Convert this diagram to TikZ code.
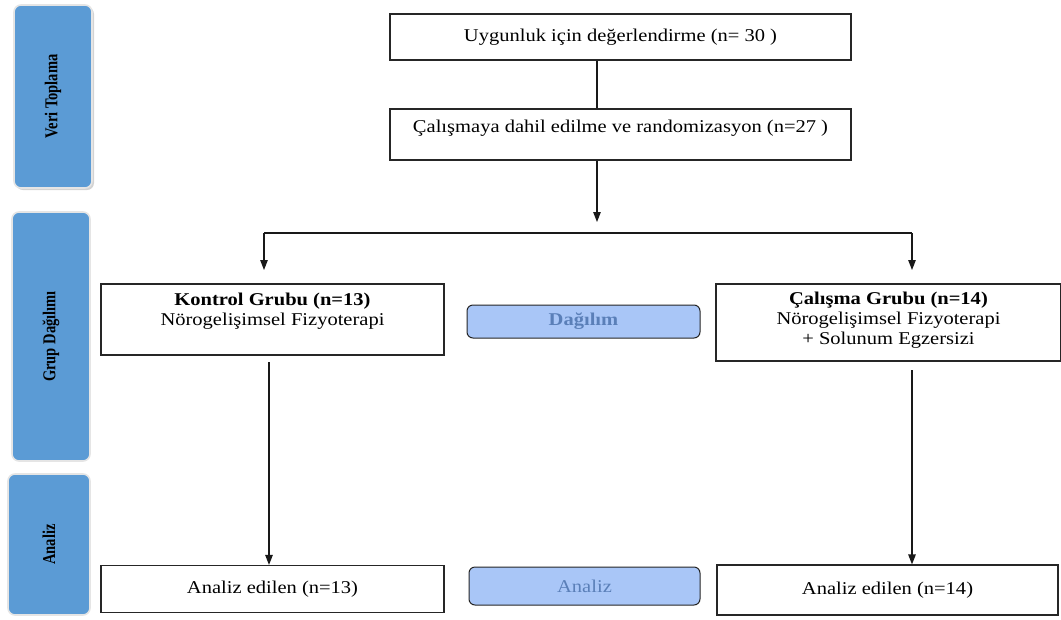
\documentclass[tikz,border=0pt]{standalone}
\usepackage{fontspec}
\setmainfont{Liberation Serif}[FakeStretch=1.14]
\newfontfamily\sidefont{Liberation Serif}
\usetikzlibrary{arrows.meta,shadows}
\definecolor{sideblue}{HTML}{5B9BD5}
\definecolor{lightblue}{HTML}{A9C6F7}
\definecolor{labblue}{HTML}{5A7FB8}
\newcommand\tallside[1]{\scalebox{1}[1.25]{#1}}
\begin{document}
\begin{tikzpicture}[x=1pt,y=-1pt,
 box/.style={draw=black!85, line width=1.2pt, fill=white, inner sep=0pt},
 side/.style={fill=sideblue, draw=black!10, line width=1.6pt, rounded corners=7pt, inner sep=0pt, rotate=90, font=\sidefont\fontsize{14.5}{17}\selectfont\bfseries},
 mid/.style={fill=lightblue, draw=black!85, line width=1pt, rounded corners=6pt, inner sep=0pt, text=labblue, font=\fontsize{18}{20}\selectfont},
 txt/.style={font=\fontsize{18}{20}\selectfont, align=center, inner sep=0pt},
 conn/.style={line width=1.2pt, black!90},
 arr/.style={conn, -{Triangle[length=10pt,width=7.5pt]}}
]
\useasboundingbox (0,0) rectangle (1061,619);
% side labels
\node[side, minimum width=183pt, minimum height=78pt, drop shadow={shadow xshift=2pt, shadow yshift=-2pt, opacity=0.35}] (s1) at (53,96.5) {\tallside{Veri Toplama}};
\node[side, minimum width=249pt, minimum height=78pt] (s2) at (51,336.5) {\tallside{Grup Dağılımı}};
\node[side, minimum width=141pt, minimum height=82pt] (s3) at (49,544.5) {\tallside{Analiz}};
% top boxes
\node[box, txt, minimum width=461pt, minimum height=46pt] (top) at (620.5,37) {Uygunluk için değerlendirme (n= 30 )};
\node[box, minimum width=461pt, minimum height=51pt] (rand) at (620.5,134.5) {};
\node[txt] (randtxt) at (620.5,128) {Çalışmaya dahil edilme ve randomizasyon (n=27 )};
% group boxes
\node[box, minimum width=343pt, minimum height=71pt] (kb) at (272.5,319.5) {};
\node[txt] (kbtxt) at (272.5,311) {\textbf{Kontrol Grubu (n=13)}\\Nörogelişimsel Fizyoterapi};
\node[box, minimum width=345pt, minimum height=77pt] (cb) at (888.5,322.5) {};
\node[txt] (cbtxt) at (888.5,320) {\textbf{Çalışma Grubu (n=14)}\\Nörogelişimsel Fizyoterapi\\+ Solunum Egzersizi};
\node[mid, font=\fontsize{18}{20}\selectfont\bfseries, minimum width=233pt, minimum height=33pt] (dag) at (583.5,321.5) {Dağılım};
% analysis boxes
\node[box, txt, minimum width=343pt, minimum height=47pt] (al) at (272.5,589) {Analiz edilen (n=13)};
\node[mid, minimum width=231pt, minimum height=38pt] (an) at (584.5,586) {Analiz};
\node[box, txt, minimum width=341pt, minimum height=50pt] (ar) at (887.5,590) {Analiz edilen (n=14)};
% connectors
\coordinate (s) at (597,233);
\coordinate (sEnd) at (597,222);
\coordinate (L) at (264,233);
\coordinate (R) at (912,233);
\coordinate (Lend) at (264,270);
\coordinate (Rend) at (912,270);
\coordinate (kl) at (269,362);
\coordinate (cr) at (912,370);
\draw[conn] (top.south -| s) -- (rand.north -| s);
\draw[arr] (rand.south -| s) -- (sEnd);
\draw[conn] (L) -- (R);
\draw[arr] (L) -- (Lend);
\draw[arr] (R) -- (Rend);
\draw[arr] (kl) -- (al.north -| kl);
\draw[arr] (cr) -- (ar.north -| cr);
\end{tikzpicture}
\end{document}
